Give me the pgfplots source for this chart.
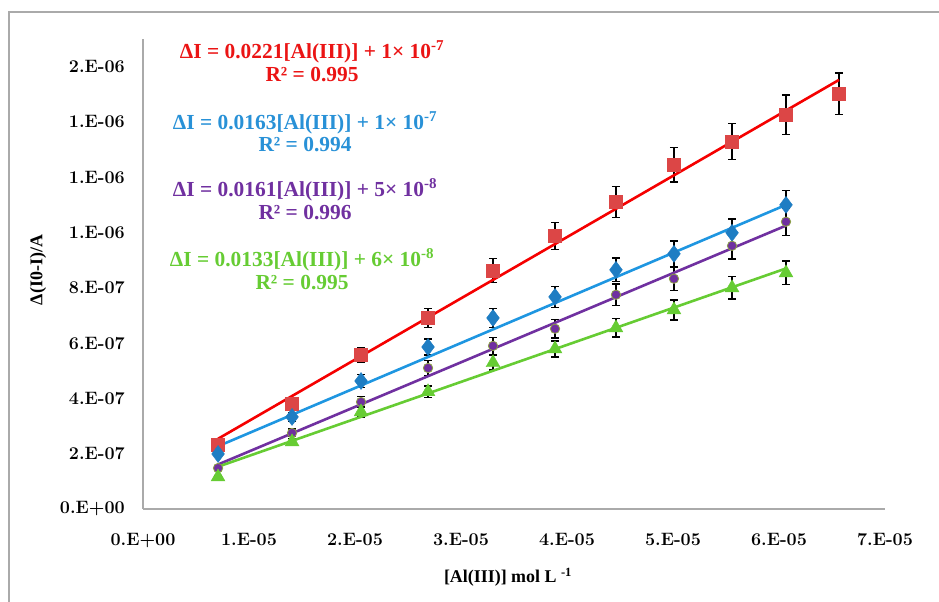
\documentclass[border=0pt]{standalone}
\usepackage{fontspec}
\usepackage{pgfplots}
\usepackage{pgfplotstable}
\pgfplotsset{compat=1.18}
\newfontfamily\tnr{Liberation Serif}

\definecolor{redline}{RGB}{245,0,0}
\definecolor{redmark}{RGB}{220,70,70}
\definecolor{blueline}{RGB}{30,150,225}
\definecolor{bluemark}{RGB}{30,125,195}
\definecolor{purp}{RGB}{112,48,160}
\definecolor{purpedge}{RGB}{140,160,70}
\definecolor{greenc}{RGB}{102,204,51}
\definecolor{redtxt}{RGB}{235,20,20}
\definecolor{bluetxt}{RGB}{40,145,215}
\definecolor{axgray}{RGB}{170,170,170}

\pgfplotstableread{
x y e
0.708e-5 0.232e-6 0.012e-6
1.406e-5 0.380e-6 0.019e-6
2.057e-5 0.557e-6 0.028e-6
2.689e-5 0.691e-6 0.035e-6
3.302e-5 0.862e-6 0.043e-6
3.887e-5 0.988e-6 0.049e-6
4.462e-5 1.111e-6 0.056e-6
5.009e-5 1.245e-6 0.062e-6
5.557e-5 1.329e-6 0.066e-6
6.066e-5 1.426e-6 0.071e-6
6.566e-5 1.502e-6 0.075e-6
}\redtab

\pgfplotstableread{
x y e
0.708e-5 0.199e-6 0.010e-6
1.406e-5 0.333e-6 0.017e-6
2.057e-5 0.463e-6 0.023e-6
2.689e-5 0.586e-6 0.029e-6
3.302e-5 0.691e-6 0.035e-6
3.887e-5 0.767e-6 0.038e-6
4.462e-5 0.865e-6 0.043e-6
5.009e-5 0.923e-6 0.046e-6
5.557e-5 0.999e-6 0.050e-6
6.066e-5 1.100e-6 0.052e-6
}\bluetab

\pgfplotstableread{
x y e
0.708e-5 0.148e-6 0.007e-6
1.406e-5 0.275e-6 0.014e-6
2.057e-5 0.387e-6 0.019e-6
2.689e-5 0.510e-6 0.026e-6
3.302e-5 0.590e-6 0.030e-6
3.887e-5 0.652e-6 0.033e-6
4.462e-5 0.775e-6 0.039e-6
5.009e-5 0.833e-6 0.042e-6
5.557e-5 0.952e-6 0.048e-6
6.066e-5 1.039e-6 0.050e-6
}\purptab

\pgfplotstableread{
x y e
0.708e-5 0.116e-6 0.006e-6
1.406e-5 0.243e-6 0.012e-6
2.057e-5 0.351e-6 0.018e-6
2.689e-5 0.424e-6 0.021e-6
3.302e-5 0.529e-6 0.026e-6
3.887e-5 0.579e-6 0.029e-6
4.462e-5 0.655e-6 0.033e-6
5.009e-5 0.720e-6 0.036e-6
5.557e-5 0.800e-6 0.040e-6
6.066e-5 0.854e-6 0.043e-6
}\greentab

\begin{document}
\begin{tikzpicture}
\useasboundingbox (0,0) rectangle (939bp,602bp);
\fill[white] (0,0) rectangle (939bp,602bp);
\draw[axgray, line width=1.3bp] (9bp,-5bp) -- (9bp,590bp) -- (945bp,590bp);
\begin{axis}[
  at={(143bp,93bp)}, anchor=south west,
  scale only axis, width=742bp, height=470bp,
  xmin=0, xmax=7e-5, ymin=0, ymax=1.7e-6,
  scaled ticks=false,
  axis lines*=left,
  axis line style={draw=axgray, line width=1.3bp, -},
  tick style={draw=none},
  xtick={0,1e-5,2e-5,3e-5,4e-5,5e-5,6e-5,7e-5},
  xticklabels={0.E+00,1.E-05,2.E-05,3.E-05,4.E-05,5.E-05,6.E-05,7.E-05},
  ytick={0,2e-7,4e-7,6e-7,8e-7,1e-6,1.2e-6,1.4e-6,1.6e-6},
  yticklabels={0.E+00,2.E-07,4.E-07,6.E-07,8.E-07,1.E-06,1.E-06,1.E-06,2.E-06},
  ticklabel style={font=\fontsize{18}{20}\selectfont\bfseries, inner sep=0pt},
  yticklabel style={anchor=east, xshift=-18bp},
  xticklabel style={anchor=north, yshift=-24bp},
  clip=false,
  error bars/error bar style={black, line width=1.3bp},
  error bars/error mark options={rotate=90, mark size=4bp, black, line width=1.3bp},
]
\addplot[only marks, mark=square*, mark size=6.5bp, mark options={fill=redmark, draw=redmark},
  error bars/.cd, y dir=both, y explicit] table[x=x, y=y, y error=e]{\redtab};
\addplot[only marks, mark=diamond*, mark size=8.5bp, mark options={fill=bluemark, draw=bluemark},
  error bars/.cd, y dir=both, y explicit] table[x=x, y=y, y error=e]{\bluetab};
\addplot[only marks, mark=*, mark size=4.7bp, mark options={fill=purp, draw=purpedge, line width=0.8bp},
  error bars/.cd, y dir=both, y explicit] table[x=x, y=y, y error=e]{\purptab};
\addplot[only marks, mark=triangle*, mark size=8bp, mark options={fill=greenc, draw=greenc},
  error bars/.cd, y dir=both, y explicit] table[x=x, y=y, y error=e]{\greentab};
% trend lines
\addplot[redline, line width=2.6bp, no marks] coordinates {(0.708e-5,2.54e-7) (6.566e-5,1.552e-6)};
\addplot[blueline, line width=2.6bp, no marks] coordinates {(0.708e-5,2.27e-7) (6.066e-5,1.100e-6)};
\addplot[purp, line width=2.6bp, no marks] coordinates {(0.708e-5,1.61e-7) (6.066e-5,1.025e-6)};
\addplot[greenc, line width=2.6bp, no marks] coordinates {(0.708e-5,1.53e-7) (6.066e-5,0.870e-6)};
\end{axis}
\begin{scope}[every node/.style={font=\tnr\bfseries\fontsize{21.5}{24}\selectfont, inner sep=0pt}]
\node[redtxt] at (312bp,550bp) {ΔI = 0.0221[Al(III)] + 1× 10\textsuperscript{-7}};
\node[redtxt] at (312bp,527bp) {R² = 0.995};
\node[bluetxt] at (305bp,479bp) {ΔI = 0.0163[Al(III)] + 1× 10\textsuperscript{-7}};
\node[bluetxt] at (305bp,457bp) {R² = 0.994};
\node[purp] at (305bp,412bp) {ΔI = 0.0161[Al(III)] + 5× 10\textsuperscript{-8}};
\node[purp] at (305bp,389bp) {R² = 0.996};
\node[greenc] at (302bp,342bp) {ΔI = 0.0133[Al(III)] + 6× 10\textsuperscript{-8}};
\node[greenc] at (302bp,319bp) {R² = 0.995};
\end{scope}
\node[font=\tnr\bfseries\fontsize{18}{20}\selectfont, rotate=90] at (38bp,332bp) {Δ(I0-I)/A};
\node[font=\tnr\bfseries\fontsize{18}{20}\selectfont] at (508bp,25bp) {[Al(III)] mol L \textsuperscript{-1}};
\end{tikzpicture}
\end{document}
